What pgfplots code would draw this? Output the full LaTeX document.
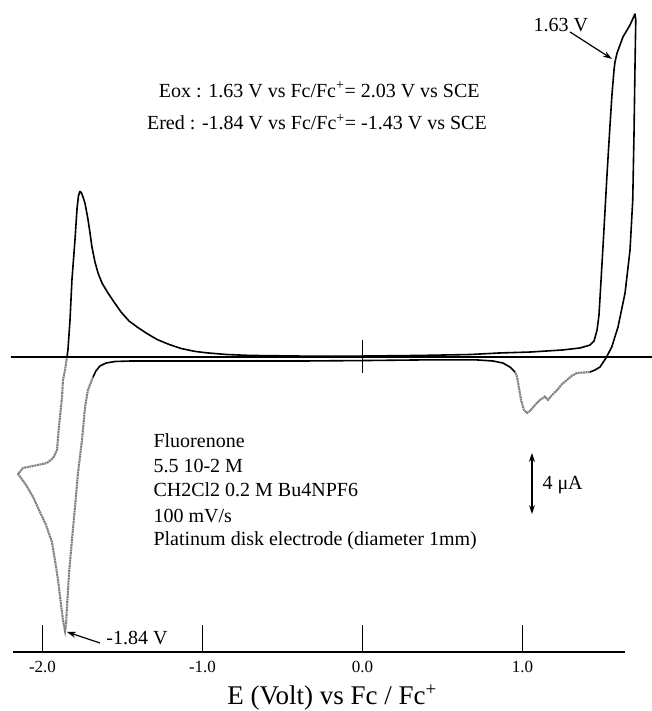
\documentclass[border=0pt]{standalone}
\usepackage{fontspec}
\setmainfont{Liberation Serif}
\usepackage{pgfplots}
\pgfplotsset{compat=1.18}
\usetikzlibrary{arrows.meta}
\newcommand{\tf}{\fontsize{20bp}{24bp}\selectfont}
\newcommand{\plusup}{\textsuperscript{+}}

\pgfplotstableread{
V I
-1.848 -0.06
-1.841 0.45
-1.828 2.39
-1.816 4.97
-1.797 7.55
-1.784 9.60
-1.775 10.40
-1.766 10.68
-1.757 10.60
-1.746 10.30
-1.734 9.90
-1.716 8.90
-1.703 8.00
-1.691 7.10
-1.672 6.13
-1.653 5.42
-1.628 4.77
-1.591 4.13
-1.553 3.55
-1.509 2.90
-1.459 2.32
-1.409 1.94
-1.353 1.55
-1.284 1.13
-1.209 0.81
-1.134 0.55
-1.047 0.36
-0.966 0.26
-0.847 0.16
-0.703 0.10
-0.391 0.06
0.000 0.06
0.359 0.10
0.672 0.16
0.859 0.26
1.047 0.32
1.247 0.45
1.359 0.58
1.422 0.77
1.447 1.03
1.466 1.74
1.478 2.71
1.491 4.97
1.509 8.19
1.528 11.74
1.547 14.97
1.559 16.90
1.572 18.52
1.578 19.03
1.591 19.61
1.628 20.65
1.672 21.42
1.703 22.13
1.708 21.74
1.703 18.71
1.697 14.45
1.689 10.13
1.672 6.90
1.641 4.13
1.597 1.94
1.558 0.65
1.522 -0.06
1.484 -0.65
1.453 -0.84
1.422 -0.97
}\blackup

\pgfplotstableread{
V I
0.953 -0.97
0.922 -0.65
0.878 -0.39
0.816 -0.26
0.716 -0.19
0.359 -0.19
0.000 -0.23
-0.391 -0.26
-1.016 -0.26
-1.453 -0.26
-1.547 -0.29
-1.603 -0.39
-1.641 -0.58
-1.666 -0.90
-1.684 -1.29
}\blacklow

\pgfplotstableread{
V I
-1.684 -1.29
-1.716 -2.13
-1.734 -3.23
-1.753 -5.35
-1.778 -7.48
-1.797 -9.68
-1.816 -11.81
-1.834 -13.94
-1.847 -16.13
-1.853 -17.29
-1.859 -17.68
-1.872 -16.97
-1.884 -16.00
-1.903 -14.39
-1.922 -13.10
-1.941 -11.94
-1.978 -10.84
-2.016 -10.00
-2.059 -9.03
-2.103 -8.26
-2.134 -7.81
-2.153 -7.55
-2.122 -7.16
-2.059 -7.03
-1.972 -6.84
-1.934 -6.52
-1.909 -6.00
-1.903 -5.16
-1.891 -3.87
-1.878 -2.58
-1.872 -1.48
-1.859 -0.84
-1.848 -0.06
}\greyleft

\pgfplotstableread{
V I
1.422 -0.97
1.384 -1.00
1.341 -1.03
1.310 -1.20
1.278 -1.48
1.247 -1.75
1.216 -2.13
1.185 -2.45
1.159 -2.77
1.140 -2.55
1.128 -2.65
1.109 -2.77
1.078 -3.10
1.047 -3.48
1.028 -3.61
1.009 -3.42
0.991 -2.77
0.978 -2.00
0.966 -1.29
0.953 -0.97
}\greyright

\begin{document}
\begin{tikzpicture}
\begin{axis}[
  x=160bp, y=15.5bp,
  xmin=-2.184, xmax=1.641, ymin=-19.03, ymax=23.0,
  axis x line*=bottom, hide y axis,
  x axis line style={line width=1.5bp, -},
  xtick={-2,-1,0,1}, xticklabels={-2.0,-1.0,0.0,1.0},
  xtick pos=bottom, xtick align=inside, major tick length=27bp,
  every tick/.style={black, line width=1.5bp},
  xticklabel style={font=\fontsize{17bp}{20bp}\selectfont, yshift=-6bp},
  clip=false,
]
\coordinate (bbsw) at (axis cs:-2.2656,-22.839);
\coordinate (bbne) at (axis cs:1.8094,23.032);

% zero-current baseline and its 0 V marker
\addplot[black, line width=1.5bp] coordinates {(-2.197,0) (1.8094,0)};
\addplot[black, line width=1.2bp] coordinates {(0,1.10) (0,-1.03)};

% voltammogram
\addplot[black!50, line width=2.1bp, dash pattern=on 2bp off 0.6bp] table {\greyleft};
\addplot[black!50, line width=2.1bp, dash pattern=on 2bp off 0.6bp] table {\greyright};
\addplot[black, line width=1.6bp, line join=round] table {\blackup};
\addplot[black, line width=1.6bp, line join=round] table {\blacklow};

% texts
\node[anchor=base, font=\tf] at (axis cs:-0.27,16.77)
  {Eox : 1.63 V vs Fc/Fc\plusup= 2.03 V vs SCE};
\node[anchor=base, font=\tf] at (axis cs:-0.285,14.65)
  {Ered : -1.84 V vs Fc/Fc\plusup= -1.43 V vs SCE};

\node[anchor=base west, font=\tf] at (axis cs:1.047,20.97) {1.63 V};
\draw[line width=1.2bp, -{Stealth[length=9bp,width=6bp]}] (axis cs:1.297,20.97) -- (axis cs:1.559,19.23);

\node[anchor=base west, font=\tf] at (axis cs:-1.622,-18.58) {-1.84 V};
\draw[line width=1.2bp, -{Stealth[length=9bp,width=6bp]}] (axis cs:-1.641,-18.45) -- (axis cs:-1.847,-17.74);

\node[anchor=base west, font=\tf] at (axis cs:-1.328,-5.87) {Fluorenone};
\node[anchor=base west, font=\tf] at (axis cs:-1.328,-7.48) {5.5 10-2 M};
\node[anchor=base west, font=\tf] at (axis cs:-1.328,-9.03) {CH2Cl2 0.2 M Bu4NPF6};
\node[anchor=base west, font=\tf] at (axis cs:-1.328,-10.65) {100 mV/s};
\node[anchor=base west, font=\tf] at (axis cs:-1.328,-12.19) {Platinum disk electrode (diameter 1mm)};

\draw[line width=1.2bp, {Stealth[length=9bp,width=6bp]}-{Stealth[length=9bp,width=6bp]}] (axis cs:1.059,-6.19) -- (axis cs:1.059,-10.13);
\node[anchor=base west, font=\tf] at (axis cs:1.103,-8.58) {4 μA};

\node[anchor=base, font=\fontsize{27bp}{30bp}\selectfont] at (axis cs:-0.19,-22.45)
  {E (Volt) vs Fc / Fc\textsuperscript{+}};
\end{axis}
\pgfresetboundingbox
\path (bbsw) rectangle (bbne);
\end{tikzpicture}
\end{document}
